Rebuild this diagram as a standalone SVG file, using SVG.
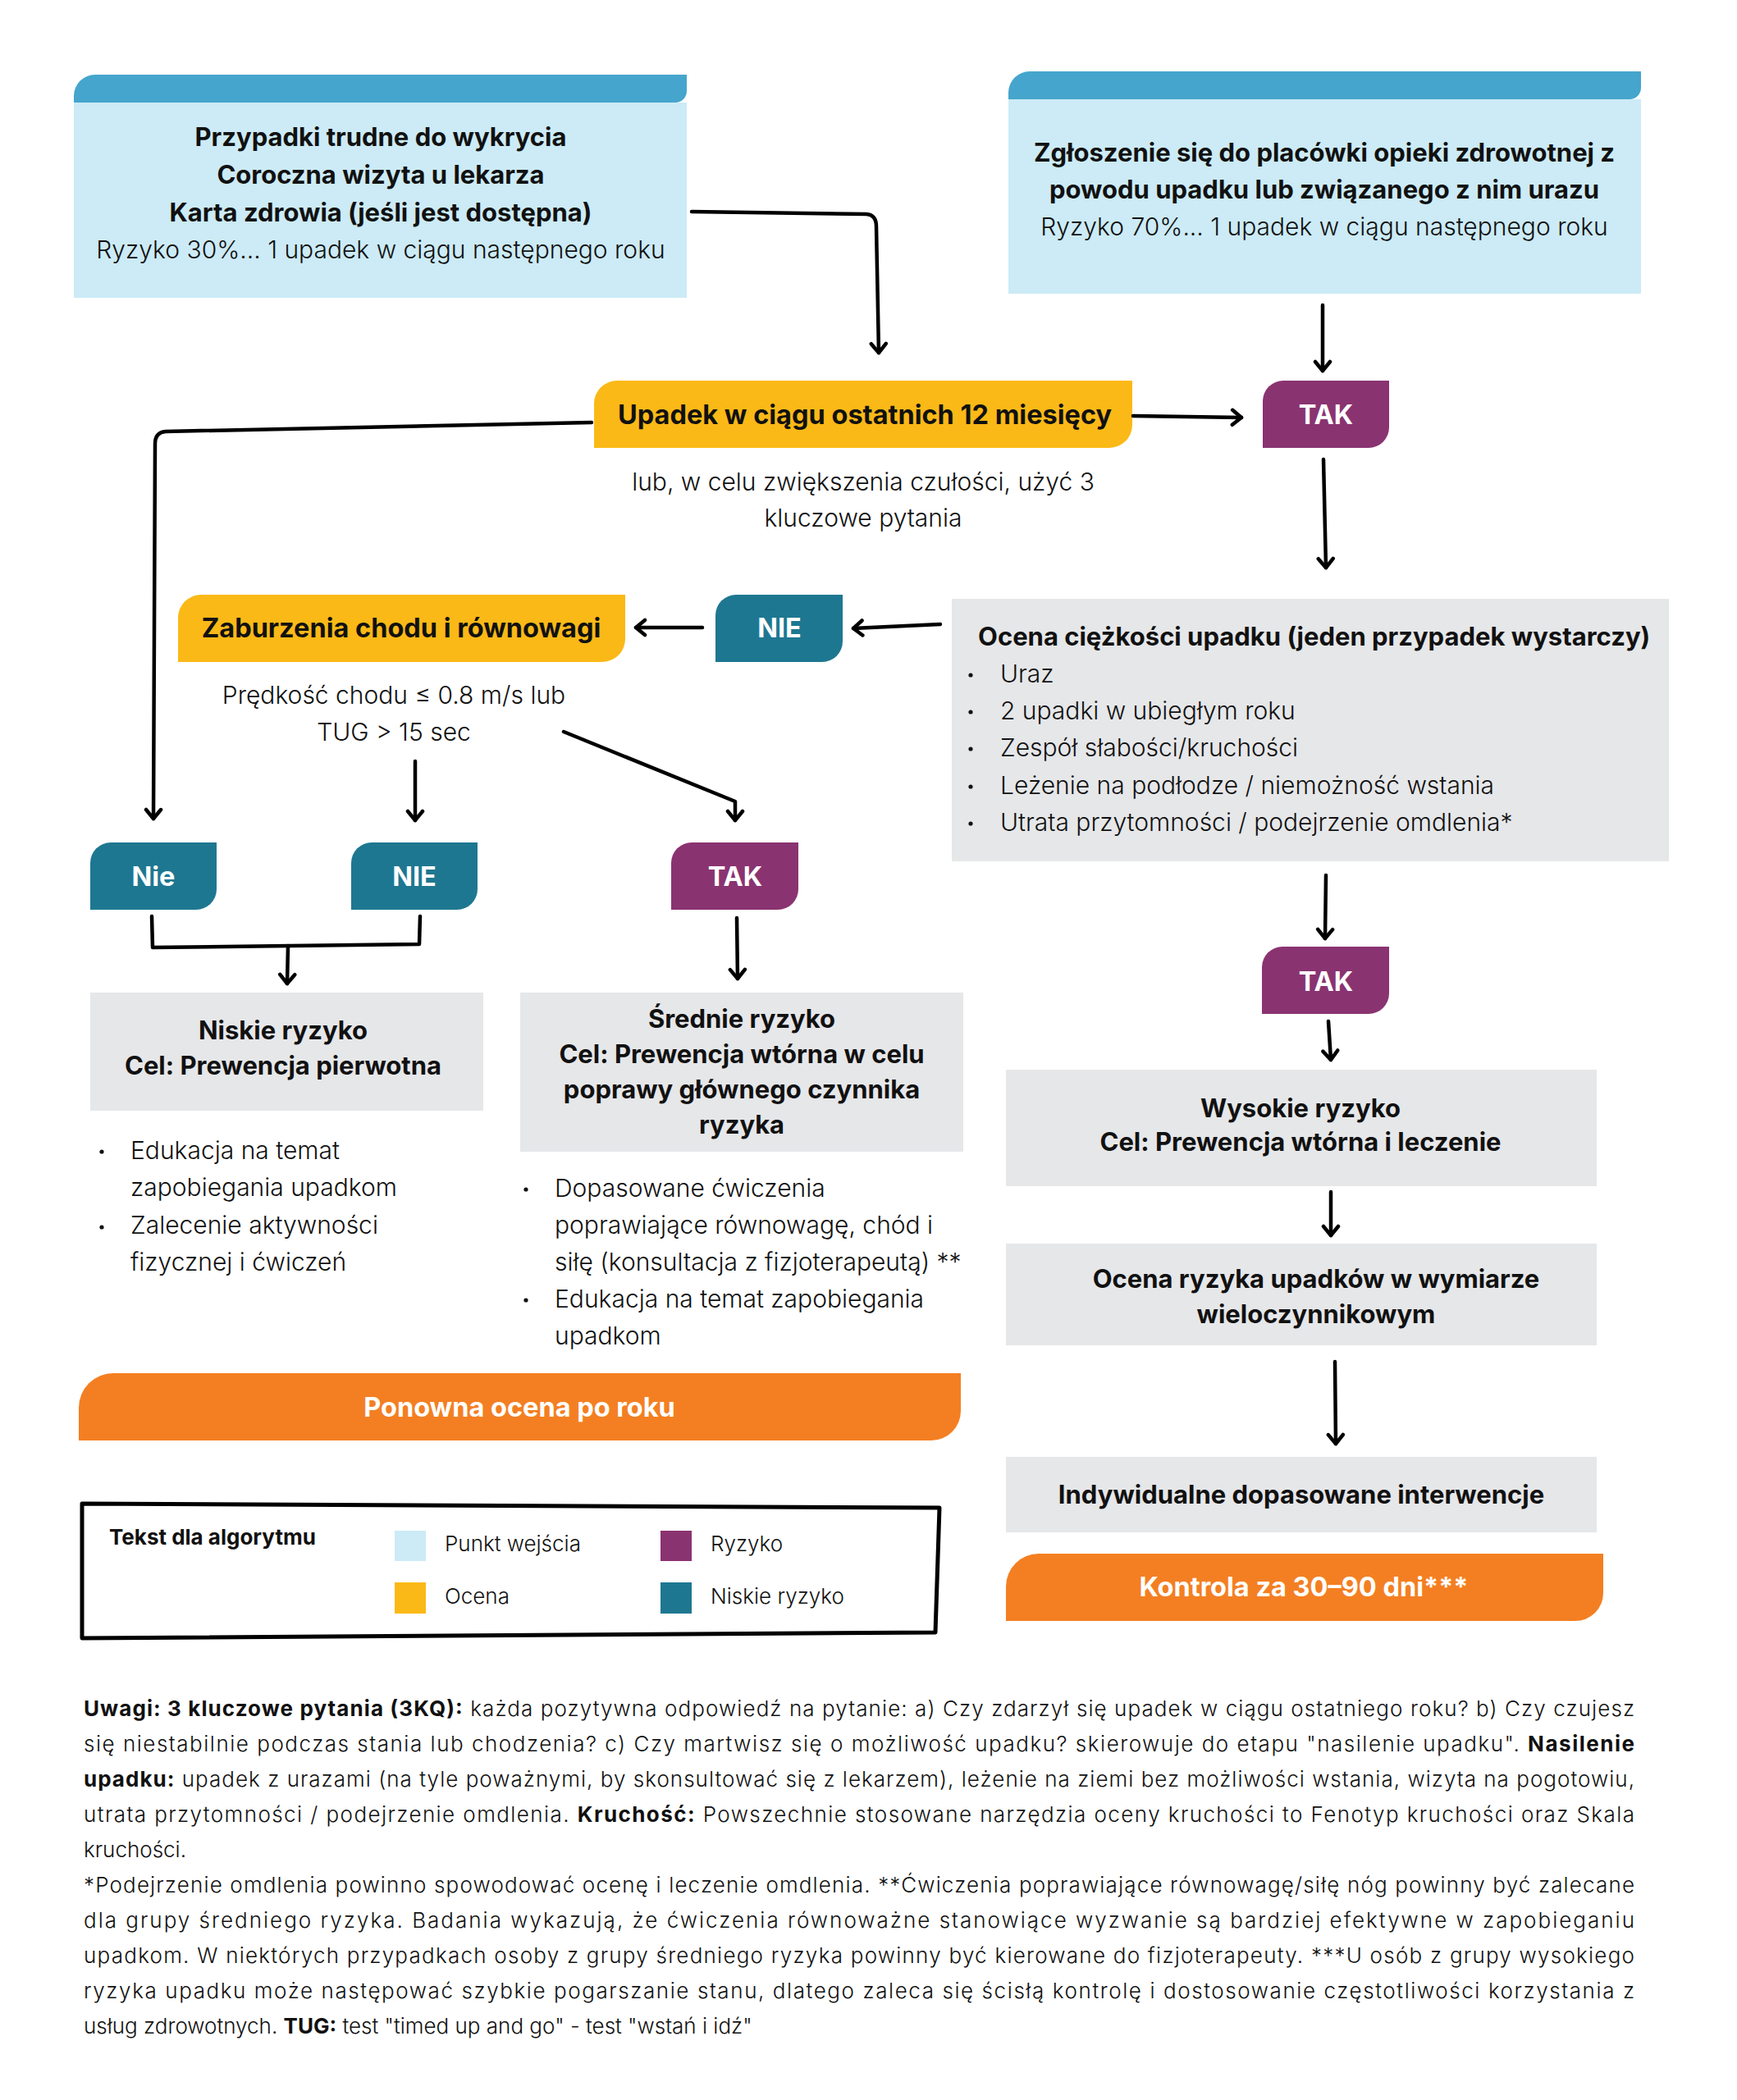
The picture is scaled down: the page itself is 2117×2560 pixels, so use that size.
<svg xmlns="http://www.w3.org/2000/svg" width="2117" height="2560" viewBox="0 0 2117 2560">
<defs>
<style>
text{font-family:Inter,Roboto,"Liberation Sans",sans-serif;fill:#111}
.b{font-weight:700}
.r{font-weight:300}
.t30{font-size:30px}
.t31{font-size:31px}
.t32{font-size:32.5px}
.t26{font-size:26px}
.c{text-anchor:middle}
.w{fill:#fff}
.head{fill:#45A5CC}
.lb{fill:#CCEBF6}
.yel{fill:#FBB917}
.pur{fill:#8A3371}
.teal{fill:#1E7791}
.gray{fill:#E6E7E9}
.org{fill:#F47F22}
.con{fill:none;stroke:#000;stroke-width:4.5;stroke-linecap:round;stroke-linejoin:round}
.dot{fill:#111}
</style>
<marker id="ah" markerUnits="userSpaceOnUse" markerWidth="24" markerHeight="24" refX="14" refY="12" orient="auto">
<path d="M3,3 L14,12 L3,21" fill="none" stroke="#000" stroke-width="4.5" stroke-linecap="round" stroke-linejoin="round"/>
</marker>
</defs>
<rect width="2117" height="2560" fill="#fff"/>

<g id="entry-left">
<rect class="lb" x="90" y="125" width="747" height="238"/>
<path class="head" d="M90,125 V117 A26,26 0 0 1 116,91 H837 V111 A14,14 0 0 1 823,125 Z"/>
<text class="b t31 c" x="464" y="178">Przypadki trudne do wykrycia</text>
<text class="b t31 c" x="464" y="224">Coroczna wizyta u lekarza</text>
<text class="b t31 c" x="464" y="270">Karta zdrowia (jeśli jest dostępna)</text>
<text class="r t30 c" x="464" y="315">Ryzyko 30%... 1 upadek w ciągu następnego roku</text>
</g>

<g id="entry-right">
<rect class="lb" x="1229" y="121" width="771" height="237"/>
<path class="head" d="M1229,121 V113 A26,26 0 0 1 1255,87 H2000 V107 A14,14 0 0 1 1986,121 Z"/>
<text class="b t31 c" x="1614" y="197">Zgłoszenie się do placówki opieki zdrowotnej z</text>
<text class="b t31 c" x="1614" y="242">powodu upadku lub związanego z nim urazu</text>
<text class="r t30 c" x="1614" y="287">Ryzyko 70%... 1 upadek w ciągu następnego roku</text>
</g>

<g id="upadek">
<path class="yel" d="M724,546 V492 A28,28 0 0 1 752,464 H1380 V518 A28,28 0 0 1 1352,546 Z"/>
<text class="b t32 c" x="1054" y="517">Upadek w ciągu ostatnich 12 miesięcy</text>
</g>

<g id="lub-text">
<text class="r t30 c" x="1052" y="598">lub, w celu zwiększenia czułości, użyć 3</text>
<text class="r t30 c" x="1052" y="642">kluczowe pytania</text>
</g>

<g id="tak1">
<path class="pur" d="M1539,546 V489 A25,25 0 0 1 1564,464 H1693 V521 A25,25 0 0 1 1668,546 Z"/>
<text class="b t32 c w" x="1616" y="517">TAK</text>
</g>

<g id="zaburzenia">
<path class="yel" d="M217,807 V753 A28,28 0 0 1 245,725 H762 V779 A28,28 0 0 1 734,807 Z"/>
<text class="b t32 c" x="489" y="777">Zaburzenia chodu i równowagi</text>
</g>

<g id="nie1">
<path class="teal" d="M872,807 V750 A25,25 0 0 1 897,725 H1027 V782 A25,25 0 0 1 1002,807 Z"/>
<text class="b t32 c w" x="950" y="777">NIE</text>
</g>

<g id="predkosc">
<text class="r t30 c" x="480" y="858">Prędkość chodu  ≤ 0.8 m/s lub</text>
<text class="r t30 c" x="480" y="903">TUG &gt; 15 sec</text>
</g>

<g id="ocena-ciezkosci">
<rect class="gray" x="1160" y="730" width="874" height="320"/>
<text class="b t31" x="1192" y="787">Ocena ciężkości upadku (jeden przypadek wystarczy)</text>
<circle class="dot" cx="1183" cy="823" r="2.6"/>
<circle class="dot" cx="1183" cy="868" r="2.6"/>
<circle class="dot" cx="1183" cy="913" r="2.6"/>
<circle class="dot" cx="1183" cy="959" r="2.6"/>
<circle class="dot" cx="1183" cy="1004" r="2.6"/>
<text class="r t30" x="1219" y="832">Uraz</text>
<text class="r t30" x="1219" y="877">2 upadki w ubiegłym roku</text>
<text class="r t30" x="1219" y="922">Zespół słabości/kruchości</text>
<text class="r t30" x="1219" y="968">Leżenie na podłodze / niemożność wstania</text>
<text class="r t30" x="1219" y="1013">Utrata przytomności / podejrzenie omdlenia*</text>
</g>

<g id="nie-left">
<path class="teal" d="M110,1109 V1052 A25,25 0 0 1 135,1027 H264 V1084 A25,25 0 0 1 239,1109 Z"/>
<text class="b t32 c w" x="187" y="1080">Nie</text>
</g>

<g id="nie2">
<path class="teal" d="M428,1109 V1052 A25,25 0 0 1 453,1027 H582 V1084 A25,25 0 0 1 557,1109 Z"/>
<text class="b t32 c w" x="505" y="1080">NIE</text>
</g>

<g id="tak2">
<path class="pur" d="M818,1109 V1052 A25,25 0 0 1 843,1027 H973 V1084 A25,25 0 0 1 948,1109 Z"/>
<text class="b t32 c w" x="896" y="1080">TAK</text>
</g>

<g id="niskie">
<rect class="gray" x="110" y="1210" width="479" height="144"/>
<text class="b t31 c" x="345" y="1267">Niskie ryzyko</text>
<text class="b t31 c" x="345" y="1310">Cel: Prewencja pierwotna</text>
</g>

<g id="srednie">
<rect class="gray" x="634" y="1210" width="540" height="194"/>
<text class="b t31 c" x="904" y="1253">Średnie ryzyko</text>
<text class="b t31 c" x="904" y="1296">Cel: Prewencja wtórna w celu</text>
<text class="b t31 c" x="904" y="1339">poprawy głównego czynnika</text>
<text class="b t31 c" x="904" y="1382">ryzyka</text>
</g>

<g id="niskie-list">
<circle class="dot" cx="124" cy="1404" r="2.6"/>
<circle class="dot" cx="124" cy="1496" r="2.6"/>
<text class="r t30" x="159" y="1413">Edukacja na temat</text>
<text class="r t30" x="159" y="1458">zapobiegania upadkom</text>
<text class="r t30" x="159" y="1504">Zalecenie aktywności</text>
<text class="r t30" x="159" y="1549">fizycznej i ćwiczeń</text>
</g>

<g id="srednie-list">
<circle class="dot" cx="641" cy="1450" r="2.6"/>
<circle class="dot" cx="641" cy="1585" r="2.6"/>
<text class="r t30" x="676" y="1459">Dopasowane ćwiczenia</text>
<text class="r t30" x="676" y="1504">poprawiające równowagę, chód i</text>
<text class="r t30" x="676" y="1549">siłę (konsultacja z fizjoterapeutą) **</text>
<text class="r t30" x="676" y="1594">Edukacja na temat zapobiegania</text>
<text class="r t30" x="676" y="1639">upadkom</text>
</g>

<g id="ponowna">
<path class="org" d="M96,1756 V1716 A42,42 0 0 1 138,1674 H1171 V1720 A36,36 0 0 1 1135,1756 Z"/>
<text class="b t32 c w" x="633" y="1727">Ponowna ocena po roku</text>
</g>

<g id="tak3">
<path class="pur" d="M1538,1236 V1179 A25,25 0 0 1 1563,1154 H1693 V1211 A25,25 0 0 1 1668,1236 Z"/>
<text class="b t32 c w" x="1616" y="1208">TAK</text>
</g>

<g id="wysokie">
<rect class="gray" x="1226" y="1304" width="720" height="142"/>
<text class="b t31 c" x="1585" y="1362">Wysokie ryzyko</text>
<text class="b t31 c" x="1585" y="1403">Cel: Prewencja wtórna i leczenie</text>
</g>

<g id="ocena-ryzyka">
<rect class="gray" x="1226" y="1516" width="720" height="124"/>
<text class="b t31 c" x="1604" y="1570">Ocena ryzyka upadków w wymiarze</text>
<text class="b t31 c" x="1604" y="1613">wieloczynnikowym</text>
</g>

<g id="indywidualne">
<rect class="gray" x="1226" y="1776" width="720" height="92"/>
<text class="b t31 c" x="1586" y="1833">Indywidualne dopasowane interwencje</text>
</g>

<g id="kontrola">
<path class="org" d="M1226,1976 V1934 A40,40 0 0 1 1266,1894 H1954 V1942 A34,34 0 0 1 1920,1976 Z"/>
<text class="b t32 c w" x="1589" y="1946">Kontrola za 30–90 dni***</text>
</g>

<g id="connectors">
<path class="con" marker-end="url(#ah)" d="M843,258 L1056,261 Q1068,262 1068,276 L1071,430"/>
<path class="con" marker-end="url(#ah)" d="M1612,372 L1612,452"/>
<path class="con" marker-end="url(#ah)" d="M1381,507 L1513,509"/>
<path class="con" marker-end="url(#ah)" d="M1613,560 L1616,692"/>
<path class="con" marker-end="url(#ah)" d="M721,515 L202,526 Q189,527 189,541 L187,998"/>
<path class="con" marker-end="url(#ah)" d="M1146,761 L1040,766"/>
<path class="con" marker-end="url(#ah)" d="M856,765 L775,765"/>
<path class="con" marker-end="url(#ah)" d="M506,928 L506,1000"/>
<path class="con" marker-end="url(#ah)" d="M687,892 L896,977 L896,1000"/>
<path class="con" d="M185,1117 L186,1155 L511,1151 L512,1117"/>
<path class="con" marker-end="url(#ah)" d="M351,1153 L350,1199"/>
<path class="con" marker-end="url(#ah)" d="M898,1119 L899,1193"/>
<path class="con" marker-end="url(#ah)" d="M1616,1067 L1615,1144"/>
<path class="con" marker-end="url(#ah)" d="M1619,1245 L1622,1292"/>
<path class="con" marker-end="url(#ah)" d="M1622,1453 L1622,1506"/>
<path class="con" marker-end="url(#ah)" d="M1627,1660 L1628,1760"/>
</g>

<g id="legend">
<path d="M100,1833 L1145,1838 L1140,1990 L100,1997 Z" fill="none" stroke="#000" stroke-width="5" stroke-linejoin="round"/>
<text class="b t26" x="133" y="1883">Tekst dla algorytmu</text>
<rect class="lb" x="481" y="1866" width="38" height="37"/>
<rect class="pur" x="805" y="1866" width="38" height="37"/>
<rect class="yel" x="481" y="1929" width="38" height="38"/>
<rect class="teal" x="805" y="1929" width="38" height="38"/>
<text class="r t26" x="542" y="1891">Punkt wejścia</text>
<text class="r t26" x="866" y="1891">Ryzyko</text>
<text class="r t26" x="542" y="1955">Ocena</text>
<text class="r t26" x="866" y="1955">Niskie ryzyko</text>
</g>

<g id="notes">
<text class="r t26" x="102" y="2092" textLength="1890" lengthAdjust="spacing"><tspan class="b">Uwagi: 3 kluczowe pytania (3KQ):</tspan> każda pozytywna odpowiedź na pytanie: a) Czy zdarzył się upadek w ciągu ostatniego roku? b) Czy czujesz</text>
<text class="r t26" x="102" y="2135" textLength="1890" lengthAdjust="spacing">się niestabilnie podczas stania lub chodzenia? c) Czy martwisz się o możliwość upadku? skierowuje do etapu "nasilenie upadku". <tspan class="b">Nasilenie</tspan></text>
<text class="r t26" x="102" y="2178" textLength="1890" lengthAdjust="spacing"><tspan class="b">upadku:</tspan> upadek z urazami (na tyle poważnymi, by skonsultować się z lekarzem), leżenie na ziemi bez możliwości wstania, wizyta na pogotowiu,</text>
<text class="r t26" x="102" y="2221" textLength="1890" lengthAdjust="spacing">utrata przytomności / podejrzenie omdlenia. <tspan class="b">Kruchość:</tspan> Powszechnie stosowane narzędzia oceny kruchości to Fenotyp kruchości oraz Skala</text>
<text class="r t26" x="102" y="2264">kruchości.</text>
<text class="r t26" x="102" y="2307" textLength="1890" lengthAdjust="spacing">*Podejrzenie omdlenia powinno spowodować ocenę i leczenie omdlenia. **Ćwiczenia poprawiające równowagę/siłę nóg powinny być zalecane</text>
<text class="r t26" x="102" y="2350" textLength="1890" lengthAdjust="spacing">dla grupy średniego ryzyka. Badania wykazują, że ćwiczenia równoważne stanowiące wyzwanie są bardziej efektywne w zapobieganiu</text>
<text class="r t26" x="102" y="2393" textLength="1890" lengthAdjust="spacing">upadkom. W niektórych przypadkach osoby z grupy średniego ryzyka powinny być kierowane do fizjoterapeuty. ***U osób z grupy wysokiego</text>
<text class="r t26" x="102" y="2436" textLength="1890" lengthAdjust="spacing">ryzyka upadku może następować szybkie pogarszanie stanu, dlatego zaleca się ścisłą kontrolę i dostosowanie częstotliwości korzystania z</text>
<text class="r t26" x="102" y="2479">usług zdrowotnych. <tspan class="b">TUG:</tspan> test "timed up and go" - test "wstań i idź"</text>
</g>
</svg>
